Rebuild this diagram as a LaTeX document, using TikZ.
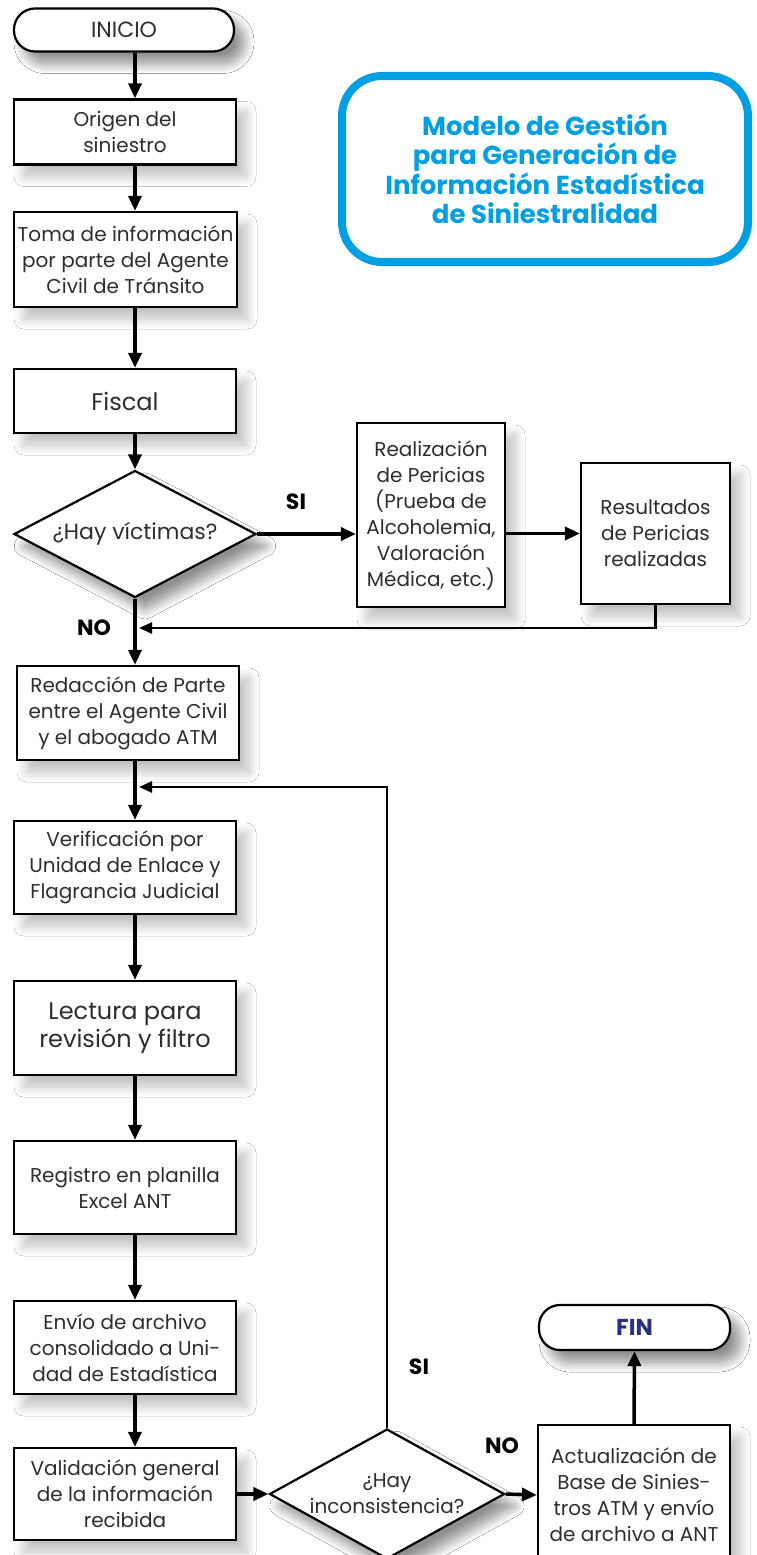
\documentclass[tikz,border=0pt]{standalone}
\usepackage{fontspec}
\setmainfont{Poppins}
\usepackage{xcolor}
\usepackage{tikz}
\usetikzlibrary{positioning,shapes,calc,arrows.meta,shadows.blur}

\definecolor{titleblue}{HTML}{009FE3}
\definecolor{finblue}{HTML}{29307F}
\definecolor{inktext}{HTML}{2E2E2E}

\newcommand\smalltxt{\fontsize{20}{26}\selectfont}
\newcommand\bigtxt{\fontsize{24}{28}\selectfont}
\newcommand\tagtxt{\fontsize{22}{24}\selectfont\bfseries}

\tikzset{
  soft shade/.style={blur shadow={shadow xshift=10pt,shadow yshift=-12pt,
      shadow blur radius=10pt,shadow blur steps=12,shadow opacity=25}},
  procbox/.style={draw,line width=2.2pt,fill=white,align=center,
      text=inktext,font=\smalltxt,inner sep=0pt,soft shade},
  termbox/.style={procbox,rounded corners=21pt},
  decision/.style={procbox,diamond,aspect=1.85},
  tag/.style={font=\tagtxt,text=black},
  elbow/.style={to path={|- (\tikztotarget)}}
}

\begin{document}
\begin{tikzpicture}[x=1pt,y=1pt]
        \useasboundingbox (0,0) rectangle (757,-1555);
        \fill[white] (0,0) rectangle (757,-1555);
        \coordinate (axis) at (135,0);
        \coordinate (nojoin) at (135,-628);
        \coordinate (sijoin) at (135,-787);
        % left column
        \begin{scope}[every node/.style={procbox,minimum width=222pt}]
            \node[termbox,minimum width=220pt,minimum height=43pt,font=\fontsize{22}{26}\selectfont] (inicio) at (124,-30) {INICIO};
            \node[minimum height=65pt] (origen) at (125,-132) {Origen del\\siniestro};
            \node[minimum width=223pt,minimum height=95pt] (toma) at (125.5,-259.5) {Toma de información\\por parte del Agente\\Civil de Tránsito};
            \node[minimum height=64pt,font=\bigtxt] (fiscal) at (125,-401) {Fiscal};
            \node[decision,minimum width=242pt,minimum height=127pt,font=\fontsize{22}{26}\selectfont] (victimas) at (135,-534) {¿Hay víctimas?};
            \node[minimum height=94pt] (redaccion) at (128,-713) {Redacción de Parte\\entre el Agente Civil\\y el abogado ATM};
            \node[minimum height=93pt] (verif) at (125,-867.5) {Verificación por\\Unidad de Enlace y\\Flagrancia Judicial};
            \node[minimum height=94pt,font=\bigtxt] (lectura) at (125,-1028) {Lectura para\\revisión y filtro};
            \node[minimum height=93pt] (registro) at (125,-1187.5) {Registro en planilla\\Excel ANT};
            \node[minimum height=93pt] (envio) at (125,-1347.5) {Envío de archivo\\consolidado a Uni-\\dad de Estadística};
            \node[minimum height=92pt] (valid) at (125,-1494) {Validación general\\de la información\\recibida};
        \end{scope}
        % right side
        \begin{scope}[every node/.style={procbox}]
            \node[minimum width=148pt,minimum height=184pt] (realiz) at (431,-515) {Realización\\de Pericias\\(Prueba de\\Alcoholemia,\\Valoración\\Médica, etc.)};
            \node[minimum width=149pt,minimum height=141pt] (result) at (655.5,-533.5) {Resultados\\de Pericias\\realizadas};
            \node[decision,aspect=1.8,minimum width=235pt,minimum height=130pt] (incon) at (387,-1494) {¿Hay\\inconsistencia?};
            \node[minimum width=192pt,minimum height=140pt] (actual) at (634,-1495) {Actualización de\\Base de Sinies-\\tros ATM y envío\\de archivo a ANT};
            \node[termbox,minimum width=191pt,minimum height=45pt,text=finblue,font=\fontsize{23}{26}\selectfont\bfseries] (fin) at (634.5,-1327.5) {FIN};
        \end{scope}
        \node[draw=titleblue,line width=8pt,rounded corners=40pt,minimum width=406pt,minimum height=186pt,
              align=center,text=titleblue,font=\fontsize{26}{29.5}\selectfont\bfseries] (title) at (545,-169)
              {Modelo de Gestión\\para Generación de\\Información Estadística\\de Siniestralidad};
        % yes / no tags
        \node[tag] (si1) at (296,-502) {SI};
        \node[tag] (no1) at (94,-628) {NO};
        \node[tag] (si2) at (419,-1367) {SI};
        \node[tag] (no2) at (502,-1446) {NO};
        \begin{scope}[every edge/.style={draw,line width=3.5pt,-{Triangle[length=15pt,width=13pt]}}]
            \path (inicio.south -| axis) edge (origen.north -| axis);
            \path (origen.south -| axis) edge (toma.north -| axis);
            \path (toma.south -| axis) edge (fiscal.north -| axis);
            \path (fiscal.south -| axis) edge (victimas.north);
            \path (victimas.east) edge (victimas.east -| realiz.west);
            \path (realiz.east |- result.west) edge (result.west);
            \path (victimas.south) edge (redaccion.north -| axis);
            \path (redaccion.south -| axis) edge (verif.north -| axis);
            \path (verif.south -| axis) edge (lectura.north -| axis);
            \path (lectura.south -| axis) edge (registro.north -| axis);
            \path (registro.south -| axis) edge (envio.north -| axis);
            \path (envio.south -| axis) edge (valid.north -| axis);
            \path (valid.east) edge (incon.west);
            \path (incon.east) edge (actual.west);
            \path (actual.north) edge (fin.south);
        \end{scope}
        \begin{scope}[every edge/.style={draw,line width=2.5pt,shorten >=4pt,-{Triangle[length=13pt,width=11pt]}}]
            \path (result.south) edge[elbow] (nojoin);
            \path (incon.north) edge[elbow] (sijoin);
        \end{scope}
    \end{tikzpicture}
\end{document}
